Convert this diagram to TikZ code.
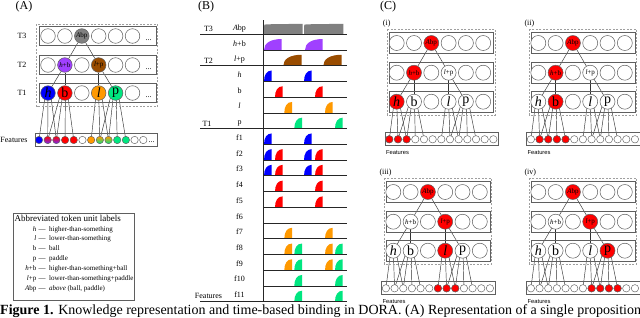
\documentclass[tikz,border=0pt]{standalone}
\usepackage{fontspec}
\setmainfont{Liberation Serif}
\newfontfamily\sansf{Liberation Sans}
\usetikzlibrary{backgrounds,calc}
\definecolor{cblue}{RGB}{0,0,255}
\definecolor{cred}{RGB}{255,0,0}
\definecolor{corange}{RGB}{255,153,0}
\definecolor{cgreen}{RGB}{0,230,128}
\definecolor{cpurple}{RGB}{160,64,255}
\definecolor{cbrown}{RGB}{153,76,0}
\definecolor{cgray}{RGB}{128,128,128}
\definecolor{boxc}{RGB}{95,95,95}
\definecolor{linec}{RGB}{50,50,50}
\tikzset{
 unit/.style={circle, draw=boxc, line width=0.5pt, inner sep=0pt, minimum size=15pt, fill=white},
 feat/.style={circle, draw=boxc, line width=0.45pt, inner sep=0pt, minimum size=7.4pt, fill=white},
 rowbox/.style={draw=boxc, line width=0.7pt},
 dbox/.style={draw=gray!75, line width=0.8pt, dash pattern=on 2pt off 1.5pt},
 link/.style={draw=linec, line width=0.45pt},
 bline/.style={draw=black!85, line width=0.8pt},
 big/.style={font=\fontsize{14}{14}\selectfont},
 small/.style={font=\fontsize{7}{7}\selectfont},
 lab/.style={font=\fontsize{8}{9}\selectfont, inner sep=0pt},
 leg/.style={font=\fontsize{7}{8}\selectfont, inner sep=0pt},
 legt/.style={font=\fontsize{9}{10}\selectfont, inner sep=0pt},
 plab/.style={font=\fontsize{12}{12}\selectfont, inner sep=0pt},
 dots/.style={font=\fontsize{8}{8}\selectfont, inner sep=0pt, anchor=base},
}
\newcommand\pulse[5]{\fill[#5] (#1,#2) .. controls (#1,{#2-0.6*#4}) and ({#1+0.35*#3},{#2-#4}) .. ({#1+#3},{#2-#4}) -- ({#1+#3},#2) -- cycle;}
\newcommand\pulseH[1]{\pulse{264}{#1}{7.7}{11}{cblue}\pulse{304}{#1}{7.7}{11}{cblue}}
\newcommand\pulseB[1]{\pulse{275}{#1}{7.7}{11}{cred}\pulse{315}{#1}{7.7}{11}{cred}}
\newcommand\pulseL[1]{\pulse{284.3}{#1}{7.7}{11}{corange}\pulse{325}{#1}{7.7}{11}{corange}}
\newcommand\pulseP[1]{\pulse{294.3}{#1}{7.7}{11}{cgreen}\pulse{335}{#1}{7.7}{11}{cgreen}}
\newcommand\abppulse[2]{\fill[cgray] (#1,34.3) -- (#1,27.3) .. controls (#1,24.3) .. ({#1+3},24.3) -- (#2,23.8) -- (#2,34.3) -- cycle;}
% panel C subpanel: #1 name, #2 shift, #3 label, #4 h+b fill, #5 l+p fill, #6 h, #7 b, #8 l, #9 p ; \redf = red features
\newcommand\cpanel[9]{%
\begin{scope}[shift={#2}]
 \draw[dbox] (387.3,29.3) rectangle (495,115);
 \foreach \y in {43,72.7,101.7} \draw[rowbox] (389.3,\y-10.3) rectangle (493.3,\y+10.3);
 \draw[rowbox] (385,132.8) rectangle (498.3,145.8);
 \node[lab, anchor=west] at (382.7,24) {#3};
 \foreach \k in {1,2,4,5,6} \node[unit] at ({396.7+17.3*(\k-1)},43) {};
 \node[unit, fill=cred, small] (#1-abp) at (431.3,43) {\textit{A}bp};
 \foreach \k in {1,3,5,6} \node[unit] at ({396.7+17.3*(\k-1)},72.7) {};
 \node[unit, fill=#4, small] (#1-hb) at (414,72.7) {\textit{h}+b};
 \node[unit, fill=#5, small] (#1-lp) at (448.6,72.7) {\textit{l}+p};
 \foreach \k in {3,6} \node[unit] at ({396.7+17.3*(\k-1)},101.7) {};
 \node[unit, fill=#6, big] (#1-h) at (396.7,101.7) {\textit{h}};
 \node[unit, fill=#7, big] (#1-b) at (414,101.7) {b};
 \node[unit, fill=#8, big] (#1-l) at (448.6,101.7) {\textit{l}};
 \node[unit, fill=#9, big] (#1-p) at (465.9,101.7) {p};
 \foreach \j in {1,...,13} \node[feat] (#1-f\j) at ({389.3+8.67*(\j-1)},139.3) {};
 \foreach \j in \redf \node[feat, fill=cred] (#1-f\j) at ({389.3+8.67*(\j-1)},139.3) {};
 \node[font=\sansf\fontsize{5.8}{6}\selectfont, inner sep=0pt] at (397.5,152.5) {Features};
 \begin{pgfonlayer}{background}
  \draw[link] (#1-abp) -- (#1-hb);
  \draw[link] (#1-abp) -- (#1-lp);
  \draw[link] (#1-hb) -- (#1-h);
  \draw[link] (#1-hb) -- (#1-b);
  \draw[link] (#1-lp) -- (#1-l);
  \draw[link] (#1-lp) -- (#1-p);
  \foreach \j/\d in {1/-2.5,2/0,3/2.5} \draw[link] ($(#1-h.center)+(\d,0)$) -- (#1-f\j.center);
  \foreach \j/\d in {2/-4,3/-2,4/0.5,5/2.5} \draw[link] ($(#1-b.center)+(\d,0)$) -- (#1-f\j.center);
  \foreach \j/\d in {7/-2.5,8/0,9/2.5} \draw[link] ($(#1-l.center)+(\d,0)$) -- (#1-f\j.center);
  \foreach \j/\d in {8/-4,9/-2,10/0.5,11/2.5} \draw[link] ($(#1-p.center)+(\d,0)$) -- (#1-f\j.center);
 \end{pgfonlayer}
\end{scope}}
\begin{document}
\begin{tikzpicture}[x=1pt,y=-1pt]
\useasboundingbox (0,0) rectangle (640,317);
\begin{pgfonlayer}{background}
\fill[white] (0,0) rectangle (640,317);
\end{pgfonlayer}

%%%%%%%%%%%%%%%% Panel A
\node[plab] at (24,7) {(A)};
\draw[dbox] (36.7,24.3) rectangle (157.3,106.7);
\foreach \y/\t in {36/T3,65/T2,93/T1} {
 \draw[rowbox] (39.3,\y-9.8) rectangle (156,\y+9.8);
 \node[lab] at (22,\y) {\t};
 \node[dots] at (148.5,\y+4) {...};
}
\foreach \k in {1,2,4,5,6} \node[unit, minimum size=14.6pt] at ({48+16.9*(\k-1)},36) {};
\node[unit, minimum size=14.6pt, fill=cgray, small] (aAbp) at (81.8,36) {\textit{A}bp};
\foreach \k in {1,3,5,6} \node[unit, minimum size=14.6pt] at ({48+16.9*(\k-1)},65) {};
\node[unit, minimum size=14.6pt, fill=cpurple, small] (ahb) at (64.9,65) {\textit{h}+b};
\node[unit, minimum size=14.6pt, fill=cbrown, small] (alp) at (98.7,65) {\textit{l}+p};
\foreach \k in {3,6} \node[unit, minimum size=14.6pt] at ({48+16.9*(\k-1)},93) {};
\node[unit, minimum size=14.6pt, fill=cblue, big] (ah) at (48,93) {\textit{h}};
\node[unit, minimum size=14.6pt, fill=cred, big] (ab) at (64.9,93) {b};
\node[unit, minimum size=14.6pt, fill=corange, big] (al) at (98.7,93) {\textit{l}};
\node[unit, minimum size=14.6pt, fill=cgreen, big] (ap) at (115.6,93) {p};
% features A
\draw[rowbox] (35,133.8) rectangle (157,146.5);
\node[lab] at (14,140) {Features};
\foreach \j/\c in {1/cblue,4/cred,5/cred,6/white,7/corange,10/cgreen,11/cgreen,12/white,13/white}
 \node[feat, fill=\c] (af\j) at ({39+8.69*(\j-1)},140) {};
\foreach \j in {2,3}
 \node[feat, top color=cred, bottom color=cpurple!70!blue] (af\j) at ({39+8.69*(\j-1)},140) {};
\foreach \j in {8,9}
 \node[feat, top color=corange, bottom color=cgreen] (af\j) at ({39+8.69*(\j-1)},140) {};
\node[dots] at (151.7,142.5) {...};
\begin{pgfonlayer}{background}
 \draw[link] (aAbp) -- (ahb);
 \draw[link] (aAbp) -- (alp);
 \draw[link] (ahb) -- (ah);
 \draw[link] (ahb) -- (ab);
 \draw[link] (alp) -- (al);
 \draw[link] (alp) -- (ap);
 \foreach \j/\d in {1/-2.5,2/0,3/2.5} \draw[link] ($(ah.center)+(\d,0)$) -- (af\j.center);
 \foreach \j/\d in {2/-4,3/-2,4/0.5,5/2.5} \draw[link] ($(ab.center)+(\d,0)$) -- (af\j.center);
 \foreach \j/\d in {7/-2.5,8/0,9/2.5} \draw[link] ($(al.center)+(\d,0)$) -- (af\j.center);
 \foreach \j/\d in {8/-4,9/-2,10/0.5,11/2.5} \draw[link] ($(ap.center)+(\d,0)$) -- (af\j.center);
\end{pgfonlayer}

% legend
\draw[draw=boxc, line width=0.6pt] (13,213) rectangle (134,300);
\node[legt, anchor=base west] at (14.5,221) {Abbreviated token unit labels};
\foreach \y/\a/\t in {231/{\textit{h}}/{higher-than-something},
                      240.8/{\textit{l}}/{lower-than-something},
                      250.6/{b}/{ball},
                      260.5/{p}/{paddle},
                      270.3/{\textit{h}+b}/{higher-than-something+ball},
                      280.2/{\textit{l}+p}/{lower-than-something+paddle},
                      290/{\textit{A}bp}/{\textit{above} (ball, paddle)}} {
 \node[leg, anchor=base east] at (36.5,\y) {\a};
 \node[leg, anchor=base west] at (38.5,\y) {\textemdash};
 \node[leg, anchor=base west] at (49,\y) {\t};
}

%%%%%%%%%%%%%%%% Panel B
\node[plab] at (206,7) {(B)};
\abppulse{264}{302.7}
\abppulse{304}{343.3}
\pulse{264}{50.03}{17.7}{11}{cpurple}
\pulse{305}{50.03}{17.7}{11}{cpurple}
\pulse{283.3}{65.76}{18.4}{11}{cbrown}
\pulse{323.3}{65.76}{18.4}{11}{cbrown}
\pulseH{81.49}
\pulseB{97.22}
\pulseL{112.95}
\pulseP{128.68}
\pulseH{144.41}
\pulseH{160.14}\pulseB{160.14}
\pulseH{175.87}\pulseB{175.87}
\pulseB{191.6}
\pulseB{207.33}
\pulseL{238.79}
\pulseL{254.52}\pulseP{254.52}
\pulseL{270.25}\pulseP{270.25}
\pulseP{285.98}
\pulseP{301.71}
\foreach \b in {34.3,50.03,65.76,81.49,97.22,112.95,128.68,144.41,160.14,175.87,191.6,207.33,223.06,238.79,254.52,270.25,285.98,301.71}
 \draw[bline] (263.5,\b) -- (346.7,\b);
\foreach \b in {34.3,65.76,128.68,301.71} \draw[bline] (200,\b) -- (263.5,\b);
\draw[bline, line width=1pt] (263.5,20) -- (263.5,301.71);
\foreach \b/\t in {34.3/{\textit{A}bp},50.03/{\textit{h}+b},65.76/{\textit{l}+p},81.49/{\textit{h}},97.22/{b},112.95/{\textit{l}},128.68/{p},
  144.41/f1,160.14/f2,175.87/f3,191.6/f4,207.33/f5,223.06/f6,238.79/f7,254.52/f8,270.25/f9,285.98/f10,301.71/f11}
 \node[lab, anchor=base] at (239.5,\b-4) {\t};
\node[lab, anchor=base] at (208.5,31.8) {T3};
\node[lab, anchor=base] at (208.5,63) {T2};
\node[lab, anchor=base] at (207,126) {T1};
\node[lab, anchor=base] at (208.5,298.7) {Features};

%%%%%%%%%%%%%%%% Panel C
\node[plab] at (388,7) {(C)};
\def\redf{1,2,3}
\cpanel{ci}{(0,0)}{(i)}{cred}{white}{cred}{white}{white}{white}
\def\redf{2,3,4,5}
\cpanel{cii}{(141.6,0)}{(ii)}{cred}{white}{white}{cred}{white}{white}
\def\redf{7,8,9}
\cpanel{ciii}{(-3.4,149)}{(iii)}{white}{cred}{white}{white}{cred}{white}
\def\redf{8,9,10,11}
\cpanel{civ}{(141.6,149)}{(iv)}{white}{cred}{white}{white}{white}{cred}

%%%%%%%%%%%%%%%% caption
\node[anchor=base west, inner sep=0pt, font=\fontsize{14}{15}\selectfont] (cap) at (0,314.5)
 {\textbf{Figure 1.} Knowledge representation and time-based binding in DORA. (A) Representation of a single proposition};
\end{tikzpicture}
\end{document}
